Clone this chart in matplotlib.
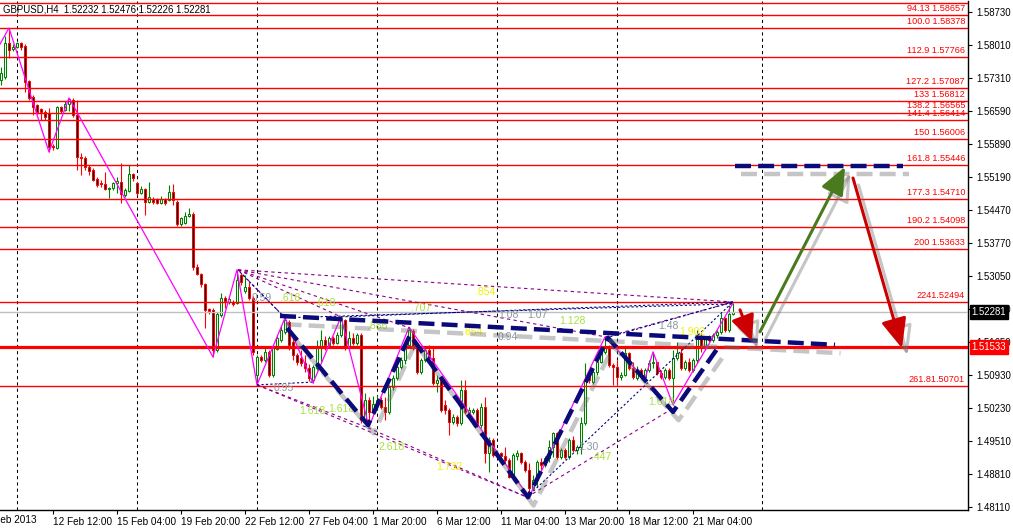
import matplotlib
matplotlib.use('Agg')
import matplotlib.pyplot as plt
import matplotlib.patheffects as pe
from matplotlib.patches import Rectangle

plt.rcParams['font.family'] = ['Liberation Sans', 'DejaVu Sans']

# ---------------- data ----------------
title = "GBPUSD,H4  1.52232 1.52476 1.52226 1.52281"

opens = [1.5726,1.5733,1.5806,1.5793,1.5797,1.5806,1.5799,1.5724,1.5690,1.5673,
         1.5664,1.5658,1.5655,1.5585,1.5580,1.5668,1.5662,1.5675,1.5683,1.5651,
         1.5561,1.5559,1.5540,1.5533,1.5514,1.5505,1.5503,1.5492,1.5495,1.5505,
         1.5507,1.5480,1.5488,1.5525,1.5505,1.5484,1.5492,1.5465,1.5471,1.5471,
         1.5462,1.5471,1.5469,1.5486,1.5465,1.5417,1.5419,1.5435,1.5439,1.5325,
         1.5310,1.5289,1.5235,1.5233,1.5147,1.5222,1.5259,1.5250,1.5250,1.5248,
         1.5308,1.5274,1.5282,1.5259,1.5093,1.5132,1.5125,1.5143,1.5093,1.5149,
         1.5168,1.5186,1.5207,1.5164,1.5136,1.5130,1.5119,1.5108,1.5083,1.5108,
         1.5151,1.5168,1.5158,1.5173,1.5162,1.5179,1.5211,1.5151,1.5173,1.5162,
         1.5179,1.4997,1.5040,1.5014,1.5029,1.5040,1.5025,1.5014,1.5068,1.5087,
         1.5110,1.5125,1.5158,1.5188,1.5151,1.5100,1.5125,1.5147,1.5130,1.5076,
         1.5083,1.5029,1.5018,1.4992,1.5003,1.4990,1.5061,1.5012,1.5014,1.5018,
         1.4986,1.5025,1.4926,1.4954,1.4919,1.4926,1.4919,1.4911,1.4874,1.4920,
         1.4926,1.4907,1.4889,1.4851,1.4868,1.4907,1.4900,1.4915,1.4939,1.4969,
         1.4917,1.4932,1.4917,1.4954,1.4932,1.4939,1.4990,1.5089,1.5078,1.5100,
         1.5121,1.5143,1.5153,1.5115,1.5110,1.5089,1.5093,1.5140,1.5108,1.5087,
         1.5104,1.5089,1.5104,1.5119,1.5121,1.5098,1.5089,1.5104,1.5087,1.5130,
         1.5140,1.5108,1.5121,1.5104,1.5125,1.5173,1.5151,1.5173,1.5168,1.5179,
         1.5186,1.5216,1.5190,1.52232]
highs = [1.5754,1.5821,1.5838,1.5804,1.5808,1.5808,1.5804,1.5726,1.5694,1.5675,
         1.5666,1.5662,1.5666,1.5589,1.5670,1.5670,1.5681,1.5688,1.5688,1.5683,
         1.5570,1.5563,1.5544,1.5537,1.5518,1.5512,1.5529,1.5497,1.5507,1.5518,
         1.5548,1.5495,1.5544,1.5527,1.5507,1.5499,1.5495,1.5507,1.5475,1.5473,
         1.5477,1.5473,1.5501,1.5503,1.5469,1.5432,1.5443,1.5452,1.5443,1.5331,
         1.5312,1.5291,1.5237,1.5237,1.5228,1.5269,1.5263,1.5261,1.5254,1.5319,
         1.5312,1.5308,1.5293,1.5263,1.5136,1.5136,1.5155,1.5147,1.5158,1.5179,
         1.5200,1.5216,1.5211,1.5179,1.5140,1.5147,1.5136,1.5117,1.5115,1.5168,
         1.5190,1.5177,1.5177,1.5177,1.5186,1.5218,1.5214,1.5188,1.5183,1.5183,
         1.5183,1.5055,1.5046,1.5048,1.5050,1.5046,1.5046,1.5072,1.5093,1.5121,
         1.5132,1.5168,1.5196,1.5192,1.5160,1.5130,1.5153,1.5158,1.5151,1.5093,
         1.5087,1.5040,1.5022,1.5010,1.5007,1.5083,1.5083,1.5025,1.5022,1.5022,
         1.5033,1.5046,1.4960,1.4958,1.4932,1.4928,1.4939,1.4915,1.4926,1.4932,
         1.4928,1.4911,1.4904,1.4879,1.4911,1.4915,1.4919,1.4954,1.4971,1.4971,
         1.4937,1.4937,1.4958,1.4962,1.4943,1.5003,1.5119,1.5095,1.5106,1.5125,
         1.5147,1.5175,1.5158,1.5119,1.5125,1.5100,1.5151,1.5143,1.5121,1.5113,
         1.5108,1.5108,1.5125,1.5143,1.5121,1.5104,1.5108,1.5108,1.5147,1.5164,
         1.5151,1.5125,1.5130,1.5130,1.5190,1.5183,1.5177,1.5179,1.5183,1.5190,
         1.5226,1.5218,1.5243,1.52476]
lows = [1.5716,1.5728,1.5774,1.5789,1.5795,1.5791,1.5701,1.5683,1.5651,1.5653,
        1.5640,1.5640,1.5572,1.5576,1.5578,1.5655,1.5660,1.5660,1.5647,1.5533,
        1.5522,1.5533,1.5522,1.5510,1.5497,1.5497,1.5490,1.5473,1.5490,1.5484,
        1.5462,1.5475,1.5486,1.5510,1.5480,1.5482,1.5437,1.5462,1.5460,1.5460,
        1.5460,1.5458,1.5467,1.5458,1.5413,1.5413,1.5417,1.5432,1.5319,1.5308,
        1.5282,1.5194,1.5224,1.5132,1.5143,1.5218,1.5237,1.5246,1.5241,1.5246,
        1.5286,1.5269,1.5254,1.5136,1.5072,1.5121,1.5121,1.5089,1.5089,1.5147,
        1.5164,1.5181,1.5147,1.5125,1.5115,1.5113,1.5100,1.5080,1.5076,1.5104,
        1.5121,1.5147,1.5158,1.5158,1.5160,1.5175,1.5147,1.5147,1.5158,1.5158,
        1.4990,1.4992,1.4982,1.5010,1.5018,1.5020,1.4997,1.5010,1.5061,1.5083,
        1.5106,1.5117,1.5151,1.5147,1.5095,1.5095,1.5121,1.5121,1.5072,1.5057,
        1.5014,1.5010,1.4965,1.4988,1.4984,1.4986,1.5010,1.5007,1.5010,1.4982,
        1.4980,1.4904,1.4885,1.4917,1.4915,1.4915,1.4907,1.4872,1.4872,1.4911,
        1.4902,1.4885,1.4831,1.4847,1.4853,1.4889,1.4896,1.4907,1.4917,1.4913,
        1.4913,1.4913,1.4913,1.4928,1.4924,1.4924,1.4986,1.5076,1.5074,1.5093,
        1.5119,1.5138,1.5110,1.5072,1.5072,1.5083,1.5091,1.5104,1.5085,1.5083,
        1.5089,1.5085,1.5100,1.5108,1.5093,1.5085,1.5085,1.5083,1.5029,1.5125,
        1.5104,1.5104,1.5100,1.5100,1.5119,1.5143,1.5147,1.5164,1.5164,1.5173,
        1.5181,1.5186,1.5186,1.52226]
closes = [1.5741,1.5806,1.5791,1.5797,1.5806,1.5797,1.5722,1.5688,1.5668,1.5658,
          1.5658,1.5647,1.5582,1.5582,1.5668,1.5660,1.5675,1.5686,1.5651,1.5561,
          1.5559,1.5540,1.5531,1.5512,1.5501,1.5503,1.5492,1.5495,1.5505,1.5510,
          1.5482,1.5490,1.5525,1.5516,1.5484,1.5492,1.5465,1.5475,1.5465,1.5462,
          1.5471,1.5462,1.5486,1.5469,1.5417,1.5430,1.5435,1.5439,1.5325,1.5310,
          1.5289,1.5233,1.5231,1.5147,1.5224,1.5259,1.5252,1.5256,1.5246,1.5297,
          1.5293,1.5282,1.5259,1.5143,1.5132,1.5125,1.5143,1.5093,1.5151,1.5173,
          1.5190,1.5211,1.5158,1.5136,1.5121,1.5119,1.5108,1.5087,1.5110,1.5151,
          1.5168,1.5158,1.5173,1.5162,1.5179,1.5216,1.5151,1.5173,1.5162,1.5179,
          1.4997,1.5040,1.5014,1.5031,1.5040,1.5025,1.5014,1.5068,1.5087,1.5110,
          1.5125,1.5158,1.5190,1.5151,1.5100,1.5125,1.5147,1.5130,1.5076,1.5083,
          1.5018,1.5018,1.4992,1.5003,1.4990,1.5061,1.5014,1.5018,1.5018,1.4986,
          1.5025,1.4926,1.4954,1.4922,1.4926,1.4919,1.4911,1.4874,1.4922,1.4926,
          1.4907,1.4889,1.4851,1.4868,1.4907,1.4900,1.4915,1.4939,1.4969,1.4917,
          1.4932,1.4917,1.4954,1.4932,1.4939,1.4990,1.5083,1.5083,1.5100,1.5121,
          1.5143,1.5153,1.5115,1.5110,1.5089,1.5093,1.5140,1.5108,1.5089,1.5104,
          1.5093,1.5104,1.5119,1.5121,1.5098,1.5089,1.5104,1.5087,1.5130,1.5140,
          1.5108,1.5121,1.5104,1.5125,1.5173,1.5151,1.5173,1.5168,1.5179,1.5186,
          1.5216,1.5190,1.5224,1.52281]

# x-axis labels (bar index of each label)
xtick_bars = [-2, 13, 29, 45, 61, 77, 93, 109, 125, 141, 157, 173]
xtick_labels = ['8 Feb 2013', '12 Feb 12:00', '15 Feb 04:00', '19 Feb 20:00',
                '22 Feb 12:00', '27 Feb 04:00', '1 Mar 20:00', '6 Mar 12:00',
                '11 Mar 04:00', '13 Mar 20:00', '18 Mar 12:00', '21 Mar 04:00']
week_bars = [4, 34, 64, 94, 124, 154, 190.25]

ytick_values = [1.58730, 1.58010, 1.57310, 1.56590, 1.55890, 1.55190, 1.54470,
                1.53770, 1.53050, 1.52350, 1.51650, 1.50930, 1.50230, 1.49510,
                1.48810, 1.48110]

# Fibonacci expansion levels
fib_prices = [1.58919, 1.58657, 1.58378, 1.57766, 1.57087, 1.56812, 1.56565, 1.56414,
              1.56006, 1.55446, 1.54710, 1.54098, 1.53633, 1.52494, 1.50701]
fib_labels = ['', '94.13 1.58657', '100.0 1.58378', '112.9 1.57766', '127.2 1.57087',
              '133 1.56812', '138.2 1.56565', '141.4 1.56414', '150 1.56006',
              '161.8 1.55446', '177.3 1.54710', '190.2 1.54098', '200 1.53633',
              '2241.52494', '261.81.50701']
bid_price = 1.52281
hline_price = 1.51533

# ZigZag indicator pivots
zz_bars = [-3, 2, 12, 17, 53, 59, 64, 71, 78, 85, 92, 102, 132, 151, 161, 163, 168, 183]
zz_prices = [1.5761, 1.5838, 1.5572, 1.5688, 1.5132, 1.5319, 1.5072, 1.5216, 1.5076,
             1.5218, 1.4982, 1.5196, 1.4831, 1.5175, 1.5085, 1.5143, 1.5029, 1.52476]

# hand-drawn pattern (thick navy dashed)
w_bars = [71.5, 91.75, 102.25, 131.75, 151.75, 168, 179.75]
w_prices = [1.5194, 1.4986, 1.5179, 1.4831, 1.5173, 1.5014, 1.5158]
neck_bars = [69.75, 208.5]
neck_prices = [1.5220, 1.5158]
target_bars = [183.5, 225.5]
target_prices = [1.5542, 1.5542]

# arrows: (start bar, start price, end bar, end price)
arrow_small_red = (184.75, 1.5233, 187.75, 1.5166)
arrow_green = (189.75, 1.5186, 211.0, 1.5540)
arrow_big_red = (213.0, 1.5516, 225.25, 1.5151)

# harmonic scanner lines
purple_lines = [
    ((59.25, 1.5319), (183.0, 1.5250)),
    ((59.25, 1.5319), (151.25, 1.5175)),
    ((59.25, 1.5319), (102.25, 1.5194)),
    ((59.25, 1.5319), (85.0, 1.5218)),
    ((59.25, 1.5319), (71.0, 1.5216)),
    ((64.0, 1.5072), (91.75, 1.4980)),
    ((64.0, 1.5072), (131.5, 1.4831)),
    ((91.75, 1.4980), (131.5, 1.4831)),
    ((131.5, 1.4831), (168.0, 1.5022)),
    ((151.25, 1.5175), (183.0, 1.5250)),
]
navy_lines = [
    ((64.0, 1.5072), (77.75, 1.5078)),
    ((59.75, 1.5314), (71.0, 1.5216)),
    ((85.0, 1.5218), (183.0, 1.5250)),
    ((71.0, 1.5216), (183.0, 1.5246)),
    ((151.25, 1.5173), (183.0, 1.5250)),
    ((131.5, 1.4831), (183.0, 1.5250)),
]
ratio_texts = ['0.59', '.618', '.618', '.854', '.707', '.886', '.854', '1.08', '1.07',
               '0.94', '1.128', '1.48', '1.902', '1.618', '1.30', '.447', '1.618',
               '1.618', '0.95', '2.618', '1.732']
ratio_bars = [65.25, 72.25, 81.0, 121.0, 105.0, 94.0, 117.75, 126.75, 134.0,
              126.75, 142.75, 166.75, 172.75, 165.0, 146.75, 150.0, 77.75,
              85.0, 70.75, 97.75, 112.0]
ratio_prices = [1.5259, 1.5259, 1.5248, 1.5271, 1.5237, 1.5198, 1.5186, 1.5222, 1.5222,
                1.5175, 1.5209, 1.5198, 1.5186, 1.5035, 1.4939, 1.4917, 1.5016,
                1.5020, 1.5065, 1.4939, 1.4896]
ratio_kinds = ['g', 'y', 'y', 'Y', 'y', 'y', 'Y', 'g', 'g', 'g', 'y', 'g', 'Y', 'y',
               'g', 'y', 'y', 'y', 'g', 'y', 'Y']

# ---------------- figure ----------------
W, H = 1013, 529
fig = plt.figure(figsize=(W / 100, H / 100), dpi=100)
fig.patch.set_facecolor('white')
ax = fig.add_axes([0, 19 / H, 968 / W, 509 / H])
ax.set_facecolor('white')

for s in ['left', 'top']:
    ax.spines[s].set_visible(False)
for s in ['right', 'bottom']:
    ax.spines[s].set_color('black')
    ax.spines[s].set_linewidth(1.0)

# weekly grid
for gb in week_bars:
    ax.axvline(gb, color='black', lw=0.75, ls=(0, (3, 3)), zorder=0.5)

# candles
for i, (o, h, l, c) in enumerate(zip(opens, highs, lows, closes)):
    bull = c >= o
    col = '#008000' if bull else '#FF0000'
    ax.plot([i, i], [l, h], color=col, lw=0.8, zorder=2, solid_capstyle='butt')
    lo, hi = min(o, c), max(o, c)
    ax.add_patch(Rectangle((i - 0.28, lo), 0.56, max(hi - lo, 0.00003),
                           facecolor='white' if bull else 'black',
                           edgecolor=col, lw=0.75, zorder=2.1))

# fib levels
for p, lab in zip(fib_prices, fib_labels):
    ax.axhline(p, color='#FF0000', lw=1.0, zorder=3)
    if lab:
        ax.annotate(lab, xy=(965 / 968, p), xycoords=('axes fraction', 'data'),
                    xytext=(0, 1.5), textcoords='offset points', ha='right', va='bottom',
                    color='#FF0000', fontsize=6.6, zorder=3, annotation_clip=True)
ax.axhline(bid_price, color='#C0C0C0', lw=1.0, zorder=3)
ax.axhline(hline_price, color='#FF0000', lw=2.3, zorder=3)

# zigzag
ax.plot(zz_bars, zz_prices, color='#FF00FF', lw=0.9, zorder=4)

# scanner lines
for (a, b) in purple_lines:
    ax.plot([a[0], b[0]], [a[1], b[1]], color='#8B008B', lw=0.8, ls=(0, (3, 3)), zorder=4)
for (a, b) in navy_lines:
    ax.plot([a[0], b[0]], [a[1], b[1]], color='#000080', lw=0.8, ls=(0, (2, 2)), zorder=4)

kind_col = {'g': '#8A96A3', 'y': '#A8E040', 'Y': '#F2F200'}
for t, xb, yp, k in zip(ratio_texts, ratio_bars, ratio_prices, ratio_kinds):
    ax.text(xb, yp, t, color=kind_col[k], fontsize=7.5, ha='center', va='center', zorder=4.5)

# thick navy dashed pattern with shadow
shadow = [pe.SimpleLineShadow(offset=(4, -6), shadow_color='#6E6E6E', alpha=0.4), pe.Normal()]
for xs, ys in [(w_bars, w_prices), (neck_bars, neck_prices), (target_bars, target_prices)]:
    ax.plot(xs, ys, color='#0A0A78', lw=3.2, ls=(0, (3.6, 1.6)), zorder=6,
            solid_capstyle='butt', dash_capstyle='butt', path_effects=shadow)

# arrows
def draw_arrow(spec, color, hl, hw):
    x0, y0, x1, y1 = spec
    ax.annotate('', xy=(x1, y1), xytext=(x0, y0), zorder=7,
                arrowprops=dict(arrowstyle='-|>,head_length=%s,head_width=%s' % (hl, hw),
                                lw=2.2, color=color, shrinkA=0, shrinkB=0, mutation_scale=12,
                                path_effects=[pe.SimpleLineShadow(offset=(4, -5), shadow_color='#6E6E6E', alpha=0.4),
                                              pe.Normal()]))

draw_arrow(arrow_small_red, '#CC0000', 1.3, 0.6)
draw_arrow(arrow_green, '#4A7A1E', 1.4, 0.6)
draw_arrow(arrow_big_red, '#CC0000', 1.5, 0.65)

# title
ax.text(3 / 968, 1 - 9 / 509, title, transform=ax.transAxes, fontsize=6.9,
        color='black', ha='left', va='center', zorder=8)

# axes ticks
ax.yaxis.tick_right()
ax.set_yticks(ytick_values)
ax.set_yticklabels(['%.5f' % v for v in ytick_values])
ax.tick_params(axis='y', direction='out', length=3, width=0.8, pad=3, labelsize=6.9,
               colors='black')
ax.set_xticks(xtick_bars[1:])
ax.set_xticklabels(xtick_labels[1:])
ax.tick_params(axis='x', direction='out', length=3, width=0.8, pad=2, labelsize=7.2,
               colors='black')
for lab in ax.get_xticklabels():
    lab.set_horizontalalignment('left')
# first (partly hidden) date label left of the view, as in the reference
ax.annotate(xtick_labels[0], xy=(xtick_bars[0], 0), xycoords=ax.get_xaxis_transform(),
            xytext=(-5, -3.5), textcoords='offset points', ha='left', va='top',
            fontsize=7.2, color='black', annotation_clip=False)

# limits set last (set_xticks may widen them)
ax.set_xlim(-0.25, 241.75)
ax.set_ylim(1.48035, 1.58959)

# price tags
for p, bg in [(bid_price, 'black'), (hline_price, '#FF0000')]:
    ax.annotate('%.5f' % p, xy=(1, p), xycoords=('axes fraction', 'data'),
                xytext=(2.5, 0), textcoords='offset points', ha='left', va='center',
                color='white', fontsize=6.9, annotation_clip=False, zorder=10,
                bbox=dict(boxstyle='square,pad=0.18', fc=bg, ec=bg))

fig.savefig('out.png', dpi=100, facecolor='white')
